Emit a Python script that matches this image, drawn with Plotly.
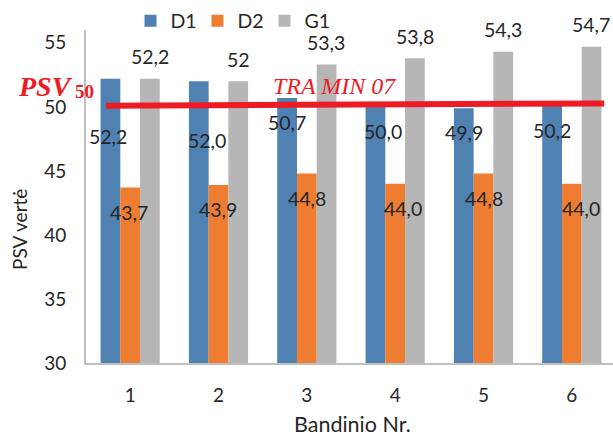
import plotly.graph_objects as go

# Sample numbers (x axis) and measured values per series
categories = ["1", "2", "3", "4", "5", "6"]
d1_values = [52.2, 52.0, 50.7, 50.0, 49.9, 50.2]
d2_values = [43.7, 43.9, 44.8, 44.0, 44.8, 44.0]
g1_values = [52.2, 52.0, 53.3, 53.8, 54.3, 54.7]
series_names = ["D1", "D2", "G1"]

# Limit line (PSV50 of the reference material), value at its start and end
limit_values = [50.08, 50.27]
limit_label = "TRA MIN 07"

colors = ["#4F81B3", "#EE7D31", "#B5B6B5"]
text_color = "#262626"
red = "#ED1C24"
font_family = "Lato, 'Open Sans', sans-serif"
serif = "'Liberation Serif', 'Times New Roman', serif"

W, H = 613, 436
M_L, M_R, M_T, M_B = 86, 0, 30, 73
plot_w = W - M_L - M_R
plot_h = H - M_T - M_B


def px_x(px):
    return (px - M_L) / plot_w


def px_y(py):
    return (H - M_B - py) / plot_h


fig = go.Figure()
for name, vals, col in zip(series_names, [d1_values, d2_values, g1_values], colors):
    fig.add_trace(go.Bar(x=categories, y=vals, name=name, marker_color=col,
                         marker_line_width=0))


def fmt1(v):
    return f"{v:.1f}".replace(".", ",")


def fmt_general(v):
    return f"{v:g}".replace(".", ",")


bar_w = 19.6
annotations = []
# label offsets (pixels) relative to bar top
d1_yshift = [-58, -59, -25, -25, -24, -26]
d1_xshift = [-3, 8, 0, 7, 0, 0]
d2_xshift = [-1, -1, 0, 8, 0, 9]
for i, cat in enumerate(categories):
    annotations.append(dict(x=i, y=d1_values[i], xref="x", yref="y",
                            text=fmt1(d1_values[i]), showarrow=False,
                            xshift=-bar_w + d1_xshift[i], yshift=d1_yshift[i]))
    annotations.append(dict(x=i, y=d2_values[i], xref="x", yref="y",
                            text=fmt1(d2_values[i]), showarrow=False,
                            xshift=d2_xshift[i], yshift=-25))
    annotations.append(dict(x=i, y=g1_values[i], xref="x", yref="y",
                            text=fmt_general(g1_values[i]), showarrow=False,
                            xshift=bar_w, yshift=22))

for a in annotations:
    a["font"] = dict(family=font_family, size=19.5, color=text_color)

# limit line
fig.add_shape(type="line", xref="x", yref="y", x0=-0.274, x1=5.366,
              y0=limit_values[0], y1=limit_values[1],
              line=dict(color=red, width=6))

annotations += [
    dict(xref="paper", yref="paper", x=px_x(75), y=px_y(86), xanchor="right",
         yanchor="middle", text="<b><i>PSV</i></b>", showarrow=False,
         font=dict(family=serif, size=28, color=red)),
    dict(xref="paper", yref="paper", x=px_x(73), y=px_y(91), xanchor="left",
         yanchor="middle", text="<b>50</b>", showarrow=False,
         font=dict(family=serif, size=19, color=red)),
    dict(xref="paper", yref="paper", x=px_x(271), y=px_y(86), xanchor="left",
         yanchor="middle", text=f"<i>{limit_label}</i>", showarrow=False,
         font=dict(family=serif, size=24, color=red)),
    dict(xref="paper", yref="paper", x=px_x(19), y=px_y(230), xanchor="center",
         yanchor="middle", text="PSV vertė", textangle=-90, showarrow=False,
         font=dict(family=font_family, size=19, color=text_color)),
    dict(xref="paper", yref="paper", x=px_x(352), y=px_y(424), xanchor="center",
         yanchor="middle", text="Bandinio Nr.", showarrow=False,
         font=dict(family=font_family, size=21.5, color=text_color)),
]

fig.update_layout(
    width=W, height=H,
    margin=dict(l=M_L, r=M_R, t=M_T, b=M_B, pad=0),
    paper_bgcolor="white", plot_bgcolor="white",
    barmode="group", bargap=0.33, bargroupgap=0,
    font=dict(family=font_family, size=19, color=text_color),
    showlegend=True,
    legend=dict(orientation="h", x=px_x(231), y=px_y(21), xanchor="center",
                yanchor="middle", font=dict(size=19.5), itemwidth=30,
                entrywidth=22, entrywidthmode="pixels",
                bgcolor="rgba(0,0,0,0)"),
    annotations=annotations,
)
fig.update_xaxes(type="category", range=[-0.5, 5.466], showline=True,
                 linecolor="#BFBFBF", linewidth=2, ticks="", showgrid=False,
                 zeroline=False, ticklabelstandoff=14,
                 tickfont=dict(family=font_family, size=19, color=text_color))
fig.update_yaxes(range=[30, 56], showline=True, linecolor="#BFBFBF", linewidth=2,
                 tickvals=[30, 35, 40, 45, 50, 55], ticks="", showgrid=False,
                 zeroline=False, ticklabelstandoff=14,
                 tickfont=dict(family=font_family, size=19, color=text_color))

fig.write_html("out.html")
